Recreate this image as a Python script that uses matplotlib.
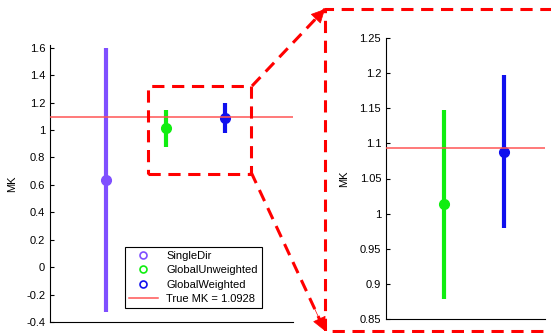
import matplotlib
matplotlib.use('Agg')
import matplotlib.pyplot as plt
from matplotlib.lines import Line2D
from matplotlib.patches import Rectangle, FancyArrowPatch

plt.rcParams['font.family'] = ['Liberation Sans', 'DejaVu Sans']
plt.rcParams['font.size'] = 8

# data
methods = ['SingleDir', 'GlobalUnweighted', 'GlobalWeighted']
xpos = [1, 2, 3]
mk_mean = [0.636, 1.013, 1.088]
mk_err = [0.96, 0.135, 0.109]
colors = ['#7f4fff', '#10ee10', '#1010ee']
true_mk = 1.0928

W, H = 551, 333
fig = plt.figure(figsize=(W / 100, H / 100), dpi=100)

def px(x0, y0, x1, y1):
    # pixel box (top-left origin) -> figure fraction rect
    return [x0 / W, 1 - y1 / H, (x1 - x0) / W, (y1 - y0) / H]

ax1 = fig.add_axes(px(50, 45, 293, 322))
ax2 = fig.add_axes(px(386, 38, 545, 319))

for ax, which in ((ax1, [0, 1, 2]), (ax2, [1, 2])):
    for i in which:
        ax.errorbar(xpos[i], mk_mean[i], yerr=mk_err[i], fmt='o', color=colors[i],
                    ms=7, lw=3, capsize=0, zorder=3)
    ax.axhline(true_mk, color='#ff5555', lw=1.1, zorder=4)
    ax.spines['top'].set_visible(False)
    ax.spines['right'].set_visible(False)
    ax.set_xticks([])
    ax.tick_params(axis='y', direction='in', length=3, labelsize=8)
    ax.set_ylabel('MK', fontsize=8)

ax1.set_xlim(0.07, 4.13)
ax1.set_ylim(-0.4, 1.62)
ax1.set_yticks([-0.4, -0.2, 0, 0.2, 0.4, 0.6, 0.8, 1.0, 1.2, 1.4, 1.6])
ax1.set_yticklabels(['-0.4', '-0.2', '0', '0.2', '0.4', '0.6', '0.8', '1', '1.2', '1.4', '1.6'])
ax1.yaxis.set_label_coords(-0.135, 0.5)

ax2.set_xlim(1.02, 3.69)
ax2.set_ylim(0.85, 1.25)
ax2.set_yticks([0.85, 0.9, 0.95, 1.0, 1.05, 1.1, 1.15, 1.2, 1.25])
ax2.set_yticklabels(['0.85', '0.9', '0.95', '1', '1.05', '1.1', '1.15', '1.2', '1.25'])
ax2.yaxis.set_label_coords(-0.23, 0.5)

# legend
handles = [Line2D([], [], ls='none', marker='o', mfc='none', mec=c, ms=5, mew=1.2) for c in colors]
handles.append(Line2D([], [], color='#ff5555', lw=1.1))
labels = methods + ['True MK = %.4f' % true_mk]
leg = ax1.legend(handles, labels, loc='lower left', bbox_to_anchor=(0.285, 0.03),
                 fancybox=False, edgecolor='black', framealpha=1, fontsize=8,
                 handlelength=2.6, labelspacing=0.4, borderpad=0.35)
leg.get_frame().set_linewidth(0.8)

# zoom box on the left plot
ax1.add_patch(Rectangle((1.71, 0.68), 3.43 - 1.71, 1.32 - 0.68, fill=False,
                        ec='red', lw=2.2, ls=(0, (4, 2.5)), zorder=5, clip_on=False))

# big dashed frame around the zoomed plot
tf = fig.transFigure
def fp(x, y):
    return (x / W, 1 - y / H)

frame = [fp(560, 9), fp(325, 9), fp(325, 331), fp(560, 331)]
fig.add_artist(Line2D([p[0] for p in frame], [p[1] for p in frame], transform=tf,
                      color='red', lw=2.2, ls=(0, (4, 2.5))))

for start, tip in [((252, 86), (325, 9)), ((251, 172), (325, 331))]:
    s = fp(*start)
    t = fp(*tip)
    fig.add_artist(Line2D([s[0], t[0]], [s[1], t[1]], transform=tf,
                          color='red', lw=2.2, ls=(0, (4, 2.5))))
    # solid head
    hx = s[0] + (t[0] - s[0]) * 0.8
    hy = s[1] + (t[1] - s[1]) * 0.8
    fig.add_artist(FancyArrowPatch((hx, hy), t, transform=tf,
                                   arrowstyle='-|>,head_length=9,head_width=4.5',
                                   color='red', lw=0.5, shrinkA=0, shrinkB=0))

fig.savefig('out.png', dpi=100)
